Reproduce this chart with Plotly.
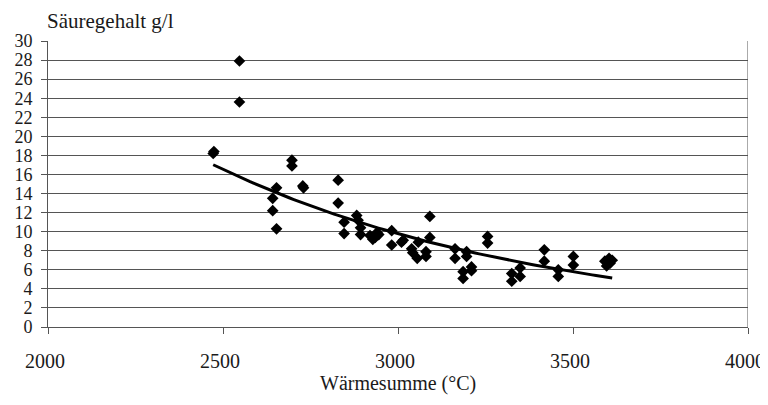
import numpy as np
import plotly.graph_objects as go

# Wärmesumme (°C)
waermesumme = [2547, 2547, 2472, 2474, 2697, 2697, 2653, 2642, 2642, 2653,
               2728, 2730, 2829, 2829, 2846, 2846, 2882, 2886, 2893, 2893,
               2920, 2928, 2935, 2940, 2945, 2982, 2982, 3010, 3015, 3039,
               3042, 3055, 3058, 3080, 3080, 3091, 3091, 3163, 3163, 3196,
               3196, 3186, 3186, 3210, 3210, 3256, 3256, 3325, 3325, 3349,
               3349, 3418, 3418, 3458, 3458, 3501, 3501, 3591, 3596, 3603,
               3606, 3612]
# Säuregehalt g/l
saeure = [27.9, 23.6, 18.2, 18.4, 17.5, 16.9, 14.6, 13.5, 12.2, 10.3,
          14.8, 14.6, 15.4, 13.0, 11.0, 9.8, 11.7, 11.2, 10.4, 9.7,
          9.6, 9.2, 9.4, 9.9, 9.7, 10.1, 8.6, 8.9, 9.1, 8.2,
          7.8, 7.2, 8.9, 7.9, 7.4, 11.6, 9.4, 8.2, 7.2, 7.9,
          7.4, 5.8, 5.1, 6.3, 5.9, 9.5, 8.8, 5.6, 4.8, 6.2,
          5.3, 8.1, 6.9, 6.0, 5.3, 7.4, 6.5, 6.9, 6.4, 7.2,
          6.7, 7.0]

x_ticks = [2000, 2500, 3000, 3500, 4000]
y_ticks = list(range(0, 31, 2))

# exponential trendline fitted to the data
xa = np.array(waermesumme, dtype=float)
ya = np.array(saeure, dtype=float)
b, ln_a = np.polyfit(xa, np.log(ya), 1)
xt = np.linspace(xa.min(), xa.max(), 100)
yt = np.exp(ln_a) * np.exp(b * xt)

FONT = "Times New Roman, Liberation Serif, DejaVu Serif, serif"
TXT = "#1a1a1a"

fig = go.Figure()
fig.add_trace(go.Scatter(x=xt, y=yt, mode="lines",
                         line=dict(color="black", width=3), hoverinfo="skip"))
fig.add_trace(go.Scatter(x=waermesumme, y=saeure, mode="markers",
                         marker=dict(symbol="diamond", size=9, color="black",
                                     line=dict(width=0))))

# page has an 8px body margin: figure is drawn at (8, 8)
fig.update_layout(
    width=760, height=397,
    margin=dict(l=40, r=20, t=33, b=78, autoexpand=False),
    paper_bgcolor="white", plot_bgcolor="white",
    showlegend=False,
    font=dict(family=FONT, size=20, color=TXT),
    xaxis=dict(range=[2000, 4000], tickvals=x_ticks, showgrid=False,
               zeroline=False, showline=True, linecolor="#555", linewidth=1,
               mirror=False, ticks="outside", ticklen=6, tickcolor="#555",
               ticklabelstandoff=10, ticklabelshift=-3, automargin=False,
               ticklabeloverflow="allow",
               tickfont=dict(family=FONT, size=20, color=TXT)),
    yaxis=dict(range=[0, 30], tickvals=y_ticks, showgrid=True,
               gridcolor="#555", gridwidth=1, zeroline=False,
               showline=True, linecolor="#555", linewidth=1,
               ticks="outside", ticklen=6, tickcolor="#555",
               ticklabelstandoff=5, automargin=False,
               ticklabeloverflow="allow",
               tickfont=dict(family=FONT, size=18, color=TXT)),
    annotations=[
        dict(text="Säuregehalt g/l", xref="paper", yref="paper", x=0, y=1,
             xanchor="left", yanchor="middle", xshift=-3, yshift=20,
             showarrow=False, font=dict(family=FONT, size=21, color=TXT)),
        dict(text="Wärmesumme (°C)", xref="paper", yref="paper", x=0.5, y=0,
             xanchor="center", yanchor="middle", yshift=-56,
             showarrow=False, font=dict(family=FONT, size=20, color=TXT)),
    ],
    shapes=[dict(type="line", xref="x", yref="paper", x0=4000, x1=4000,
                 y0=0, y1=1, line=dict(color="#555", width=1))],
)

fig.write_html("out.html")
